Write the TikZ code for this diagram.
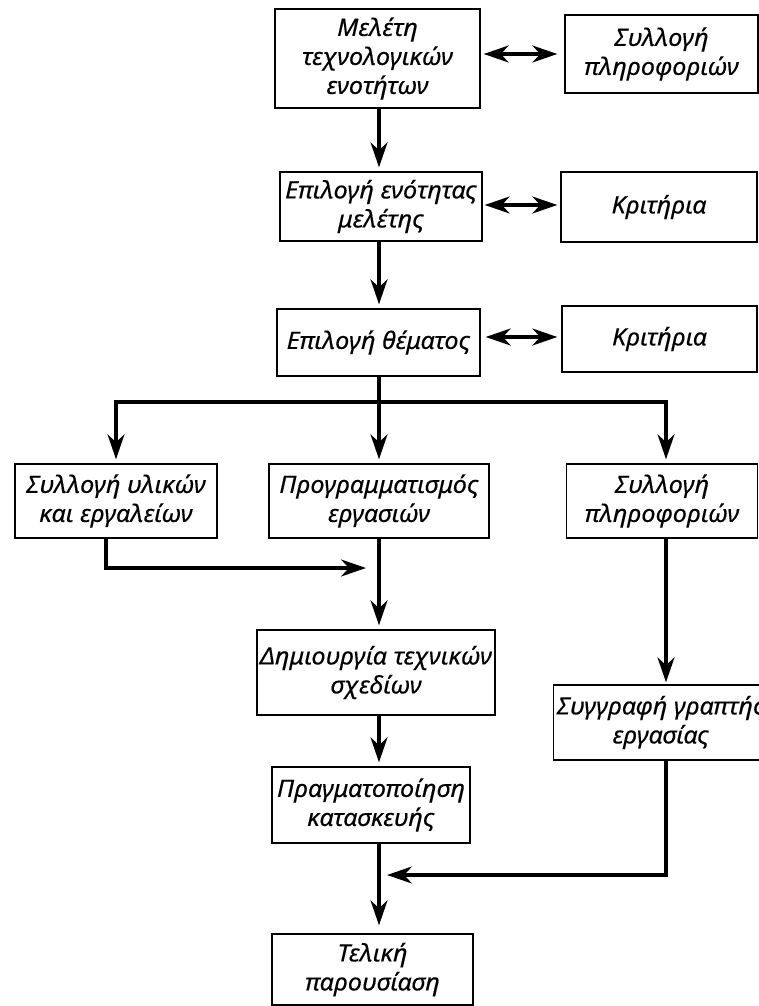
\documentclass[tikz,border=0pt]{standalone}
\usepackage{fontspec}
\setmainfont{Noto Sans}[FakeStretch=1.05,FakeBold=0.35]
\usetikzlibrary{arrows.meta,calc}
\begin{document}
\begin{tikzpicture}[x=1pt,y=-1pt,
  box/.style={draw, line width=1.4pt, align=center, inner sep=2pt,
    font=\fontsize{24}{29}\selectfont\itshape},
  arr/.style={line width=3.1pt, -{Stealth[length=25pt,width=17pt,inset=8pt]}, shorten >=4pt},
  dbl/.style={line width=3.1pt, {Stealth[length=25pt,width=17pt,inset=8pt]}-{Stealth[length=25pt,width=17pt,inset=8pt]}},
  ln/.style={line width=3.1pt}]
\useasboundingbox (0,0) rectangle (759,1006);
\clip (0,0) rectangle (759,1006);

% nodes
\node[box, minimum width=205, minimum height=99] (b1) at (377.5,58.5) {Μελέτη\\τεχνολογικών\\ενοτήτων};
\node[box, minimum width=193, minimum height=78] (bB) at (661.5,54) {Συλλογή\\πληροφοριών};
\node[box, minimum width=202, minimum height=69] (b2) at (381,206.5) {Επιλογή ενότητας\\μελέτης};
\node[box, minimum width=196, minimum height=70] (k1) at (659,207) {Κριτήρια};
\node[box, minimum width=203, minimum height=67] (b3) at (378.5,342.5) {Επιλογή θέματος};
\node[box, minimum width=195, minimum height=66] (k2) at (659.5,339) {Κριτήρια};
\node[box, minimum width=202, minimum height=74] (L) at (116,501) {Συλλογή υλικών\\και εργαλείων};
\node[box, minimum width=220, minimum height=74] (M) at (379,501) {Προγραμματισμός\\εργασιών};
\node[box, minimum width=191, minimum height=74] (R) at (662,501) {Συλλογή\\πληροφοριών};
\node[box, minimum width=238, minimum height=85] (D) at (376,672.5) {Δημιουργία τεχνικών\\σχεδίων};
\node[box, minimum width=198, minimum height=76] (P) at (371,805) {Πραγματοποίηση\\κατασκευής};
\node[box, anchor=west, minimum height=75, inner xsep=3pt] (S) at (553,722.5) {Συγγραφή γραπτής\\εργασίας};
\node[box, minimum width=201, minimum height=71] (T) at (372.5,969.5) {Τελική\\παρουσίαση};

% helper coordinates
\coordinate (cx) at (379,0);
\coordinate (rx) at (666,0);
\coordinate (sp) at (379,402);
\coordinate (jl) at (366,568);
\coordinate (jr) at (387,875);

% horizontal double arrows
\draw[dbl] ($(b1.east |- bB.west)+(3,0)$) -- ($(bB.west)+(-7,0)$);
\draw[dbl] ($(b2.east |- k1.west)+(2,-2)$) -- ($(k1.west)+(-3,-2)$);
\draw[dbl] ($(b3.east |- k2.west)+(5,-2)$) -- ($(k2.west)+(-4,-2)$);

% main column
\draw[arr] (b1.south -| cx) -- (b2.north -| cx);
\draw[arr] (b2.south -| cx) -- (b3.north -| cx);
\draw[ln] (b3.south -| cx) -- (sp);
\draw[arr] (sp) -| (L.north);
\draw[arr] (sp) -| (R.north -| rx);
\draw[arr] (sp) -- (M.north -| cx);
\draw[arr, shorten >=0pt] ([xshift=-10pt]L.south) |- (jl);
\draw[arr] (M.south -| cx) -- (D.north -| cx);
\draw[arr] (D.south -| cx) -- (P.north -| cx);
\draw[arr, shorten >=8pt] (P.south -| cx) -- (T.north -| cx);
\draw[arr, shorten >=2pt] (R.south -| rx) -- (S.north -| rx);
\draw[arr, shorten >=0pt] (S.south -| rx) |- (jr);
\end{tikzpicture}
\end{document}
